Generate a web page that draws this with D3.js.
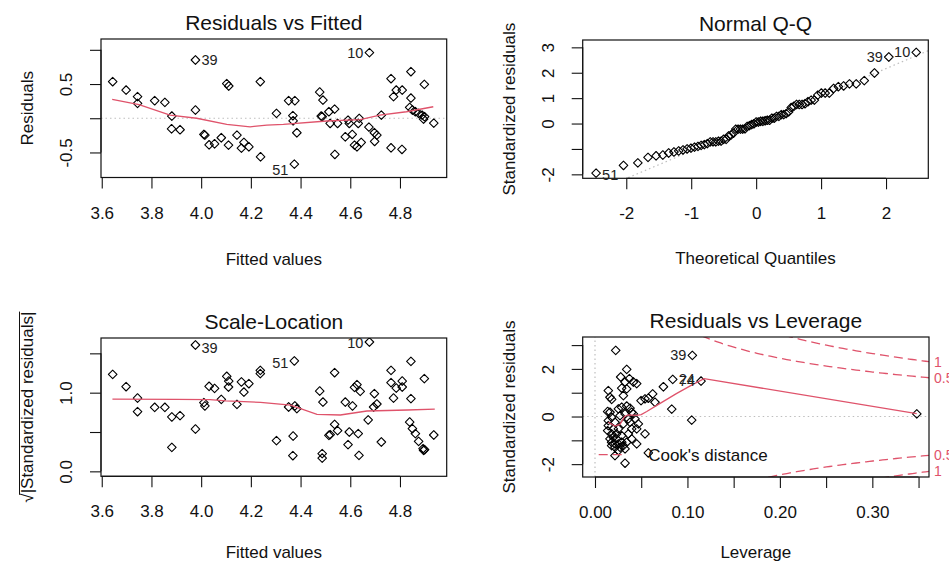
<!DOCTYPE html>
<html><head><meta charset="utf-8">
<script src="https://cdn.jsdelivr.net/npm/d3@7"></script>
<style>body{margin:0;background:#fff} svg text{font-family:"Liberation Sans",Arial,sans-serif}</style>
</head><body><svg id="c" width="949" height="564"></svg>
<script>
// ---------------- DATA ----------------
// Panel 1: Residuals vs Fitted
const rvfFitted = [3.644,3.698,3.744,3.744,3.813,3.854,3.882,3.881,3.915,3.977,3.977,4.011,4.015,4.032,4.054,4.081,4.103,4.111,4.110,4.144,4.162,4.172,4.192,4.238,4.239,4.303,4.352,4.377,4.369,4.370,4.385,4.375,4.477,4.490,4.483,4.487,4.514,4.519,4.537,4.538,4.549,4.580,4.591,4.596,4.608,4.617,4.627,4.632,4.636,4.644,4.677,4.675,4.697,4.707,4.698,4.725,4.764,4.774,4.785,4.764,4.809,4.808,4.844,4.844,4.839,4.850,4.862,4.875,4.889,4.895,4.898,4.899,4.936];
const rvfResid = [0.534,0.412,0.315,0.217,0.256,0.232,0.032,-0.154,-0.168,0.851,0.120,-0.237,-0.246,-0.388,-0.373,-0.285,0.505,0.471,-0.393,-0.246,-0.437,-0.354,-0.417,0.534,-0.563,0.071,0.256,0.256,0.037,-0.037,-0.212,-0.671,0.383,0.266,0.032,0.022,0.095,-0.076,0.134,-0.529,-0.076,-0.271,-0.027,-0.076,-0.237,-0.393,-0.417,-0.076,-0.002,-0.354,0.959,-0.129,-0.212,-0.246,-0.339,0.046,0.578,0.315,0.412,-0.432,0.412,-0.456,0.680,0.295,0.159,0.120,0.095,0.071,0.046,-0.012,0.495,0.022,-0.071];
const rvfSmoothX = [3.642,3.75,3.875,3.982,4.103,4.197,4.264,4.331,4.505,4.64,4.719,4.826,4.934];
const rvfSmoothY = [0.276,0.20,0.046,0.0,-0.09,-0.125,-0.10,-0.09,-0.04,-0.02,0.046,0.095,0.168];
const rvfIdIndex = [9,31,50];
const rvfIdText = ["39","51","10"];
const rvfIdSide = ["right","left","left"];
const fittedTicks = [3.6,3.8,4.0,4.2,4.4,4.6,4.8];
const fittedTickLabels = ["3.6","3.8","4.0","4.2","4.4","4.6","4.8"];
const rvfYTicks = [-0.5,0,0.5,1.0];
const rvfYTickLabels = ["-0.5","","0.5",""];

// Panel 2: Normal Q-Q
const qqTheoretical = [-2.465,-2.043,-1.822,-1.665,-1.541,-1.437,-1.347,-1.266,-1.193,-1.126,-1.063,-1.004,-0.949,-0.896,-0.847,-0.798,-0.752,-0.707,-0.664,-0.622,-0.580,-0.540,-0.501,-0.462,-0.424,-0.387,-0.350,-0.314,-0.278,-0.242,-0.207,-0.172,-0.138,-0.103,-0.069,-0.034,0,0.034,0.069,0.103,0.138,0.172,0.207,0.242,0.278,0.314,0.350,0.387,0.424,0.462,0.501,0.540,0.580,0.622,0.664,0.707,0.752,0.798,0.847,0.896,0.949,1.004,1.063,1.126,1.193,1.266,1.347,1.437,1.541,1.665,1.822,2.043,2.465];
const qqSample = [-1.95,-1.65,-1.55,-1.33,-1.27,-1.24,-1.16,-1.12,-1.08,-1.04,-1.00,-0.97,-0.93,-0.90,-0.86,-0.83,-0.79,-0.72,-0.72,-0.72,-0.69,-0.69,-0.62,-0.62,-0.49,-0.45,-0.38,-0.22,-0.22,-0.22,-0.22,-0.21,-0.11,-0.08,-0.04,-0.01,0.06,0.06,0.09,0.09,0.11,0.13,0.13,0.21,0.21,0.28,0.28,0.35,0.35,0.39,0.46,0.63,0.68,0.75,0.75,0.75,0.78,0.86,0.92,0.92,1.12,1.20,1.20,1.20,1.38,1.45,1.48,1.56,1.56,1.69,1.99,2.62,2.80];
const qqIdIndex = [0,71,72];
const qqIdText = ["51","39","10"];
const qqIdSide = ["right","left","left"];
const qqLineIntercept = 0.0, qqLineSlope = 1.082;
const qqXTicks = [-2,-1,0,1,2];
const qqXTickLabels = ["-2","-1","0","1","2"];
const qqYTicks = [-2,-1,0,1,2,3];
const qqYTickLabels = ["-2","","0","1","2","3"];

// Panel 3: Scale-Location
const slFitted = [3.644,3.698,3.744,3.744,3.813,3.854,3.882,3.882,3.915,3.977,3.977,4.011,4.015,4.032,4.054,4.081,4.103,4.111,4.110,4.144,4.162,4.172,4.192,4.238,4.238,4.303,4.352,4.377,4.369,4.370,4.385,4.375,4.477,4.490,4.487,4.487,4.514,4.519,4.537,4.537,4.549,4.580,4.591,4.596,4.609,4.617,4.627,4.632,4.635,4.640,4.677,4.672,4.694,4.707,4.697,4.725,4.764,4.774,4.785,4.764,4.809,4.809,4.844,4.844,4.839,4.850,4.862,4.875,4.893,4.895,4.898,4.899,4.936];
const slValue = [1.233,1.076,0.932,0.758,0.814,0.814,0.691,0.305,0.708,1.606,0.538,0.873,0.831,1.081,1.055,0.915,1.208,1.148,1.072,0.852,1.136,1.008,1.114,1.284,1.242,0.390,0.818,0.831,0.199,0.449,0.797,1.403,1.021,0.881,0.225,0.169,0.458,0.466,0.597,1.254,0.517,0.881,0.339,0.500,0.831,1.068,1.102,0.479,0.203,1.017,1.644,0.653,0.818,0.856,0.987,0.373,1.284,0.932,1.059,1.127,1.148,1.072,1.398,0.924,0.627,0.542,0.479,0.381,0.288,0.267,1.178,0.275,0.462];
const slSmoothX = [3.643,3.9,4.036,4.1,4.239,4.36,4.466,4.56,4.667,4.83,4.94];
const slSmoothY = [0.919,0.915,0.912,0.895,0.877,0.843,0.725,0.716,0.767,0.78,0.792];
const slIdIndex = [9,31,50];
const slIdText = ["39","51","10"];
const slIdSide = ["right","left","left"];
const slYTicks = [0,0.5,1.0,1.5];
const slYTickLabels = ["0.0","","1.0",""];

// Panel 4: Residuals vs Leverage
const lvLeverage = [0.0224,0.1053,0.0343,0.0278,0.0372,0.0325,0.0415,0.0451,0.0289,0.0343,0.0307,0.0144,0.0162,0.018,0.0498,0.0541,0.0577,0.0624,0.0649,0.074,0.0841,0.1147,0.083,0.1046,0.3481,0.0577,0.0325,0.0216,0.0451,0.0541,0.0469,0.0433,0.0397,0.0451,0.0361,0.0397,0.0343,0.0307,0.0253,0.0216,0.018,0.0162,0.018,0.0137,0.0144,0.0137,0.0162,0.018,0.0216,0.0253,0.0289,0.0198,0.0234,0.0253,0.0289,0.0343,0.0379,0.0397,0.0325,0.0271,0.0361,0.0307,0.0234,0.018,0.0271,0.0325,0.0216,0.0289,0.0379,0.0415,0.0144,0.0198,0.0253];
const lvStdResid = [2.78,2.57,1.98,1.66,1.59,1.45,1.45,1.38,1.19,1.16,0.88,1.09,0.81,0.72,0.67,0.74,0.77,0.95,0.60,1.25,1.56,1.49,0.31,-0.15,0.11,-1.53,-1.96,-1.64,-1.15,-0.73,-0.31,-0.10,-0.52,-0.52,-0.73,-0.94,-1.08,-1.22,-1.15,-1.29,-1.08,-0.94,-0.73,-0.59,-0.17,0.21,0.18,-0.03,-0.24,-0.52,-0.80,-0.87,-0.94,0.32,0.39,0.44,0.35,0.18,0.11,0.04,-0.10,-0.31,-0.73,-1.22,-1.29,-1.36,-1.15,-1.08,-0.24,0.11,-0.38,-0.52,-1.43];
const lvSmoothX = [0.0144,0.0216,0.027,0.032,0.036,0.045,0.05,0.056,0.07,0.088,0.105,0.118,0.348];
const lvSmoothY = [-0.24,-0.40,-0.33,0.0,0.07,0.05,0.08,0.21,0.54,0.96,1.33,1.59,0.12];
const lvIdIndex = [1,20,21];
const lvIdText = ["39","24","74"];
const lvIdSide = ["left","right","left"];
const cookLevels = [0.5,1];
const cookLevelLabels = ["0.5","1"];
const nParams = 3;
const lvXTicks = [0,0.05,0.10,0.15,0.20,0.25,0.30,0.35];
const lvXTickLabels = ["0.00","","0.10","","0.20","","0.30",""];
const lvYTicks = [-2,-1,0,1,2,3];
const lvYTickLabels = ["-2","","0","","2",""];

// ---------------- DRAWING ----------------
const RED = "#DF536B", GRAY = "#BEBEBE", INK = "#111";
const svg = d3.select("#c");
const defs = svg.append("defs");
const TICK = 11;
const marker = "M0,-4.3L4.3,0L0,4.3L-4.3,0Z";

function panel(cfg) {
  const [x0, y0, x1, y1] = cfg.box;
  const x = d3.scaleLinear().domain(cfg.xDomain).range([x0, x1]);
  const y = d3.scaleLinear().domain(cfg.yDomain).range([y1, y0]);
  const clip = "clip" + cfg.id;
  defs.append("clipPath").attr("id", clip).append("rect")
    .attr("x", x0).attr("y", y0).attr("width", x1 - x0).attr("height", y1 - y0);
  const g = svg.append("g");
  const plot = g.append("g").attr("clip-path", `url(#${clip})`);

  const xa = g.append("g").attr("transform", `translate(0,${y1})`)
    .call(d3.axisBottom(x).tickValues(cfg.xTicks).tickFormat((d, i) => cfg.xLabels[i])
      .tickSizeInner(TICK).tickSizeOuter(0).tickPadding(18));
  xa.select(".domain").attr("d", `M${x(cfg.xTicks[0])},0H${x(cfg.xTicks[cfg.xTicks.length - 1])}`);
  xa.selectAll("line,path").attr("stroke", INK).attr("stroke-width", 1.1);
  xa.selectAll("text").attr("font-size", 17).attr("fill", INK)
    .attr("font-family", '"Liberation Sans",Arial,sans-serif');

  const ya = g.append("g").attr("transform", `translate(${x0},0)`)
    .call(d3.axisLeft(y).tickValues(cfg.yTicks).tickFormat((d, i) => cfg.yLabels[i])
      .tickSizeInner(TICK).tickSizeOuter(0));
  ya.select(".domain").attr("d", `M0,${y(cfg.yTicks[0])}V${y(cfg.yTicks[cfg.yTicks.length - 1])}`);
  ya.selectAll("line,path").attr("stroke", INK).attr("stroke-width", 1.1);
  ya.selectAll("text").attr("font-size", 17).attr("fill", INK)
    .attr("font-family", '"Liberation Sans",Arial,sans-serif')
    .attr("x", 0).attr("y", -29).attr("dy", 0).attr("text-anchor", "middle")
    .attr("transform", "rotate(-90)");

  g.append("rect").attr("x", x0).attr("y", y0).attr("width", x1 - x0).attr("height", y1 - y0)
    .attr("fill", "none").attr("stroke", INK).attr("stroke-width", 1.2);

  g.append("text").attr("x", (x0 + x1) / 2).attr("y", y0 - 9).attr("text-anchor", "middle")
    .attr("font-size", 21).attr("fill", INK).text(cfg.title);
  g.append("text").attr("x", (x0 + x1) / 2).attr("y", y1 + cfg.xTitleGap).attr("text-anchor", "middle")
    .attr("font-size", 17).attr("fill", INK).text(cfg.xTitle);
  const yt = g.append("text").attr("transform", `translate(${x0 - 68},${(y0 + y1) / 2}) rotate(-90)`)
    .attr("text-anchor", "middle").attr("font-size", 17).attr("fill", INK).text(cfg.yTitle);
  if (cfg.radical) {
    const L = yt.node().getComputedTextLength();
    const tmp = g.append("text").attr("font-size", 17).text("√");
    const w = tmp.node().getComputedTextLength(); tmp.remove();
    const cx = x0 - 68 - 13.5, cy = (y0 + y1) / 2;
    g.append("line").attr("x1", cx).attr("x2", cx)
      .attr("y1", cy + L / 2 - w * 0.85).attr("y2", cy - L / 2)
      .attr("stroke", INK).attr("stroke-width", 1);
  }
  return { g, plot, x, y };
}

function points(p, xs, ys) {
  p.plot.append("g").selectAll("path").data(xs.map((v, i) => [v, ys[i]])).join("path")
    .attr("transform", d => `translate(${p.x(d[0])},${p.y(d[1])})`)
    .attr("d", marker).attr("fill", "none").attr("stroke", "#000").attr("stroke-width", 1.1)
    .attr("stroke-linejoin", "round");
}
function smooth(p, xs, ys) {
  p.plot.append("path").datum(xs.map((v, i) => [v, ys[i]]))
    .attr("d", d3.line().x(d => p.x(d[0])).y(d => p.y(d[1])))
    .attr("fill", "none").attr("stroke", RED).attr("stroke-width", 1.3);
}
function ids(p, xs, ys, idx, txt, side, dyShift) {
  idx.forEach((k, j) => {
    p.g.append("text")
      .attr("x", p.x(xs[k]) + (side[j] === "right" ? 6 : -6))
      .attr("y", p.y(ys[k]) + 5 + (dyShift ? dyShift[j] : 0))
      .attr("text-anchor", side[j] === "right" ? "start" : "end")
      .attr("font-size", 14.5).attr("fill", "#222").text(txt[j]);
  });
}
function dotted(p, pts) {
  p.plot.append("path").attr("d", d3.line()(pts))
    .attr("stroke", GRAY).attr("stroke-width", 1.2).attr("stroke-dasharray", "1.5,3").attr("fill", "none");
}

// Panel 1
const p1 = panel({ id: 1, box: [101, 39, 446.7, 177.5], xDomain: [3.597, 4.988], yDomain: [-0.866, 1.158],
  xTicks: fittedTicks, xLabels: fittedTickLabels, yTicks: rvfYTicks, yLabels: rvfYTickLabels, xTitleGap: 87,
  title: "Residuals vs Fitted", xTitle: "Fitted values", yTitle: "Residuals" });
dotted(p1, [[p1.x.range()[0], p1.y(0)], [p1.x.range()[1], p1.y(0)]]);
points(p1, rvfFitted, rvfResid);
smooth(p1, rvfSmoothX, rvfSmoothY);
ids(p1, rvfFitted, rvfResid, rvfIdIndex, rvfIdText, rvfIdSide, [0, 6, 0]);

// Panel 2
const p2 = panel({ id: 2, box: [582.7, 40, 928.3, 178.3], xDomain: [-2.671, 2.651], yDomain: [-2.156, 3.289],
  xTicks: qqXTicks, xLabels: qqXTickLabels, yTicks: qqYTicks, yLabels: qqYTickLabels, xTitleGap: 86,
  title: "Normal Q-Q", xTitle: "Theoretical Quantiles", yTitle: "Standardized residuals" });
{
  const [a, b] = p2.x.domain();
  dotted(p2, [[p2.x(a), p2.y(qqLineIntercept + qqLineSlope * a)], [p2.x(b), p2.y(qqLineIntercept + qqLineSlope * b)]]);
}
points(p2, qqTheoretical, qqSample);
ids(p2, qqTheoretical, qqSample, qqIdIndex, qqIdText, qqIdSide, [2, 0, 0]);

// Panel 3
const p3 = panel({ id: 3, box: [101, 338, 446.7, 476.3], xDomain: [3.597, 4.988], yDomain: [-0.063, 1.695],
  xTicks: fittedTicks, xLabels: fittedTickLabels, yTicks: slYTicks, yLabels: slYTickLabels, xTitleGap: 82,
  title: "Scale-Location", xTitle: "Fitted values", yTitle: "√|Standardized residuals|", radical: true });
points(p3, slFitted, slValue);
smooth(p3, slSmoothX, slSmoothY);
ids(p3, slFitted, slValue, slIdIndex, slIdText, slIdSide, [3, 2, 1]);

// Panel 4
const p4 = panel({ id: 4, box: [582.7, 337, 929, 477], xDomain: [-0.0133, 0.3613], yDomain: [-2.54, 3.34],
  xTicks: lvXTicks, xLabels: lvXTickLabels, yTicks: lvYTicks, yLabels: lvYTickLabels, xTitleGap: 81,
  title: "Residuals vs Leverage", xTitle: "Leverage", yTitle: "Standardized residuals" });
dotted(p4, [[p4.x.range()[0], p4.y(0)], [p4.x.range()[1], p4.y(0)]]);
dotted(p4, [[p4.x(0), p4.y.range()[0]], [p4.x(0), p4.y.range()[1]]]);
points(p4, lvLeverage, lvStdResid);
smooth(p4, lvSmoothX, lvSmoothY);
{
  const hmax = p4.x.domain()[1];
  const hmin = 0.0035;
  const hh = d3.range(101).map(i => hmin + (hmax - hmin) * i / 100);
  cookLevels.forEach((c, j) => {
    [1, -1].forEach(s => {
      p4.plot.append("path")
        .attr("d", d3.line().x(h => p4.x(h)).y(h => p4.y(s * Math.sqrt(c * nParams * (1 - h) / h)))(hh))
        .attr("fill", "none").attr("stroke", RED).attr("stroke-width", 1.3).attr("stroke-dasharray", "9,5");
      p4.g.append("text").attr("x", p4.x.range()[1] + 5)
        .attr("y", p4.y(s * Math.sqrt(c * nParams * (1 - hmax) / hmax)) + 5)
        .attr("font-size", 14).attr("fill", RED).text(cookLevelLabels[j]);
    });
  });
  const [x0] = p4.x.range(); const yb = p4.y.range()[0];
  p4.g.append("line").attr("x1", x0 + 16).attr("x2", x0 + 44).attr("y1", yb - 22.3).attr("y2", yb - 22.3)
    .attr("stroke", RED).attr("stroke-width", 1.3).attr("stroke-dasharray", "9,5");
  p4.g.append("text").attr("x", x0 + 65.5).attr("y", yb - 16.3).attr("font-size", 17).attr("fill", INK)
    .text("Cook's distance");
}
ids(p4, lvLeverage, lvStdResid, lvIdIndex, lvIdText, lvIdSide, [0, 0, 0]);
</script>
</body></html>
